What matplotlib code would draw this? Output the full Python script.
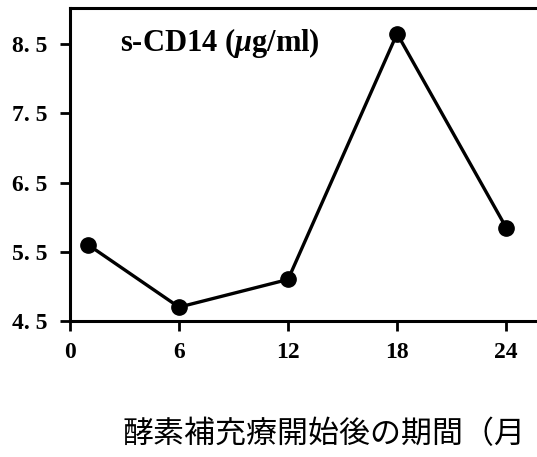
import matplotlib.pyplot as plt

months = [1, 6, 12, 18, 24]
scd14 = [5.6, 4.7, 5.1, 8.65, 5.85]
xticks = [0, 6, 12, 18, 24]
yticks = [4.5, 5.5, 6.5, 7.5, 8.5]
ytick_labels = ["4. 5", "5. 5", "6. 5", "7. 5", "8. 5"]

plt.rcParams["font.family"] = "Liberation Serif"
plt.rcParams["font.weight"] = "bold"
plt.rcParams["mathtext.fontset"] = "custom"
plt.rcParams["mathtext.it"] = "Liberation Serif:italic:bold"
plt.rcParams["mathtext.rm"] = "Liberation Serif:bold"

fig = plt.figure(figsize=(5.37, 4.57), dpi=100)
ax = fig.add_axes([70 / 537, 1 - 321 / 457, 1 - 70 / 537, 313 / 457])

ax.plot(months, scd14, color="black", linewidth=2.4, marker="o", markersize=11)

ax.set_xlim(0, 25.7)
ax.set_ylim(4.5, 9.02)
ax.set_xticks(xticks)
ax.set_yticks(yticks)
ax.set_yticklabels(ytick_labels)

ax.tick_params(axis="both", direction="out", length=7, width=2, pad=8, labelsize=17)
ax.tick_params(axis="y", pad=9)
for s in ["left", "bottom", "top"]:
    ax.spines[s].set_linewidth(2.2)
ax.spines["right"].set_visible(False)

ax.text(0.107, 0.888, r"s-CD14 ($\mu$g/ml)", transform=ax.transAxes,
        fontweight="bold", fontsize=22, va="center", ha="left")

fig.text(123 / 537, 1 - 435 / 457, "酵素補充療開始後の期間（月",
         fontfamily="Noto Sans CJK JP", fontweight="normal", fontsize=22.3,
         va="center", ha="left")

fig.savefig("out.png", dpi=100)
